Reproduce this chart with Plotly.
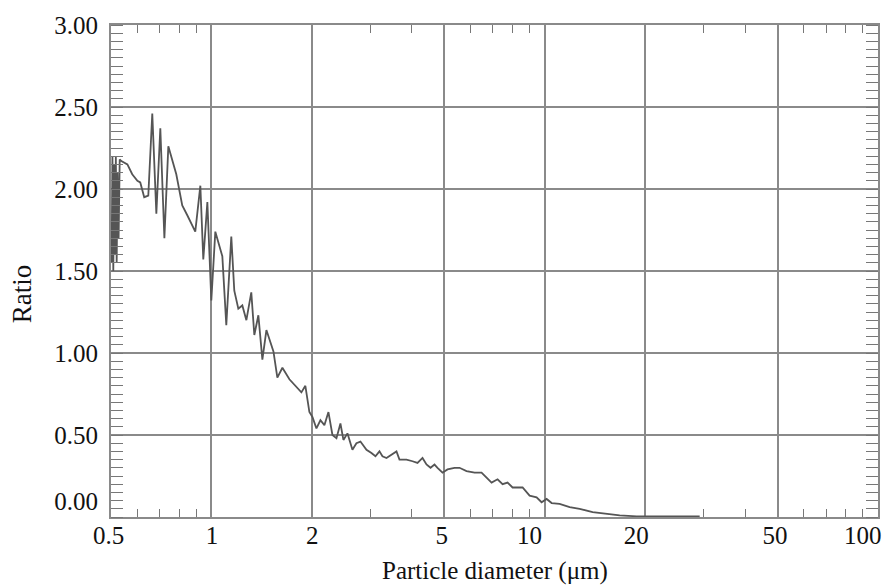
import plotly.graph_objects as go

# Particle diameter (um) and ratio
diameter = [
    0.502, 0.505, 0.508, 0.511, 0.514, 0.517, 0.520, 0.523, 0.527, 0.531, 0.537,
    0.560, 0.579, 0.600, 0.612, 0.629, 0.647, 0.665, 0.684, 0.703, 0.723, 0.743,
    0.785, 0.818, 0.847, 0.895, 0.927, 0.946, 0.973, 1.000, 1.028, 1.079, 1.109,
    1.148, 1.172, 1.205, 1.239, 1.274, 1.318, 1.346, 1.384, 1.423, 1.463, 1.536,
    1.578, 1.634, 1.715, 1.800, 1.863, 1.915, 1.969, 2.011, 2.067, 2.125, 2.184,
    2.246, 2.309, 2.374, 2.440, 2.491, 2.561, 2.651, 2.725, 2.802, 2.921, 3.023,
    3.108, 3.195, 3.262, 3.354, 3.472, 3.594, 3.669, 3.851, 4.015, 4.156, 4.302,
    4.422, 4.547, 4.674, 4.772, 4.940, 5.113, 5.366, 5.555, 5.831, 6.164, 6.469,
    6.697, 6.933, 7.226, 7.480, 7.743, 8.016, 8.298, 8.590, 9.016, 9.462, 9.795,
    10.14, 10.50, 11.09, 11.89, 12.74, 13.94, 15.36, 16.80, 18.89, 22.1, 29.2,
]
ratio = [
    1.55, 2.20, 1.50, 2.15, 1.60, 2.20, 1.55, 2.10, 1.70, 2.18, 2.17,
    2.15, 2.09, 2.05, 2.04, 1.95, 1.96, 2.46, 1.85, 2.37, 1.70, 2.26,
    2.09, 1.90, 1.84, 1.74, 2.02, 1.57, 1.92, 1.32, 1.74, 1.59, 1.17,
    1.71, 1.38, 1.27, 1.29, 1.20, 1.37, 1.11, 1.23, 0.96, 1.14, 1.01,
    0.85, 0.91, 0.84, 0.79, 0.76, 0.80, 0.64, 0.61, 0.54, 0.59, 0.56,
    0.64, 0.50, 0.48, 0.57, 0.47, 0.51, 0.41, 0.45, 0.46, 0.41, 0.39,
    0.37, 0.40, 0.37, 0.36, 0.38, 0.40, 0.35, 0.35, 0.34, 0.33, 0.36,
    0.32, 0.30, 0.32, 0.30, 0.27, 0.29, 0.30, 0.30, 0.28, 0.27, 0.27,
    0.24, 0.21, 0.23, 0.20, 0.21, 0.18, 0.18, 0.18, 0.13, 0.12, 0.09,
    0.11, 0.085, 0.08, 0.06, 0.05, 0.03, 0.02, 0.01, 0.004, 0.003, 0.003,
]

NB = "&nbsp;"
x_tickvals = [0.5, 1, 2, 5, 10, 20, 50, 100]
x_ticktext = [NB * 4 + "0.5", NB * 5 + "1", NB * 5 + "2", NB * 4 + "5", "10",
              NB * 2 + "20", NB * 4 + "50", "100"]
x_minor = [0.6, 0.7, 0.8, 0.9, 3, 4, 6, 7, 8, 9, 30, 40, 60, 70, 80, 90]
y_tickvals = [0, 0.5, 1.0, 1.5, 2.0, 2.5, 3.0]
y_ticktext = ["0.00<br>", "0.50", "1.00", "1.50", "2.00", "2.50", "3.00"]

FONT = "Liberation Serif"
GRID = "#8a8a8a"

fig = go.Figure()
fig.add_trace(go.Scatter(
    x=diameter, y=ratio, mode="lines",
    line=dict(color="#555555", width=1.8),
    showlegend=False, hoverinfo="skip",
))

fig.update_layout(
    width=887, height=588,
    margin=dict(l=111, r=9, t=25, b=71, autoexpand=False),
    paper_bgcolor="white", plot_bgcolor="white",
    font=dict(family=FONT, color="#111111"),
    showlegend=False,
    xaxis=dict(
        type="log", range=[-0.30103, 2.0004], automargin=False,
        tickmode="array", tickvals=x_tickvals, ticktext=x_ticktext,
        tickfont=dict(family=FONT, size=25, color="#111111"),
        ticks="", showgrid=True, gridcolor=GRID, gridwidth=1.5,
        showline=True, linecolor=GRID, linewidth=2, mirror="allticks",
        minor=dict(tickmode="array", tickvals=x_minor, ticks="inside",
                   ticklen=8, tickcolor="#777777", tickwidth=1.3, showgrid=False),
        zeroline=False, ticklabelstandoff=-5, ticklabelshift=-15,
        ticklabeloverflow="allow",
    ),
    yaxis=dict(
        range=[0, 3], automargin=False,
        tickmode="array", tickvals=y_tickvals, ticktext=y_ticktext,
        tickfont=dict(family=FONT, size=25, color="#111111"),
        ticks="", showgrid=True, gridcolor=GRID, gridwidth=1.5,
        showline=True, linecolor=GRID, linewidth=2, mirror="allticks",
        minor=dict(dtick=0.05, tick0=0, ticks="inside", ticklen=12,
                   tickcolor="#777777", tickwidth=1.3, showgrid=False),
        zeroline=False, ticklabelstandoff=6, ticklabeloverflow="allow",
    ),
    annotations=[
        dict(text="Ratio", xref="paper", yref="paper", x=-0.116, y=0.453,
             xanchor="center", yanchor="middle", textangle=-90, showarrow=False,
             font=dict(family=FONT, size=27, color="#111111")),
        dict(text="Particle diameter (μm)", xref="paper", yref="paper",
             x=0.50, y=-0.110, xanchor="center", yanchor="middle", showarrow=False,
             font=dict(family=FONT, size=25, color="#111111")),
    ],
)

fig.write_html("out.html")
